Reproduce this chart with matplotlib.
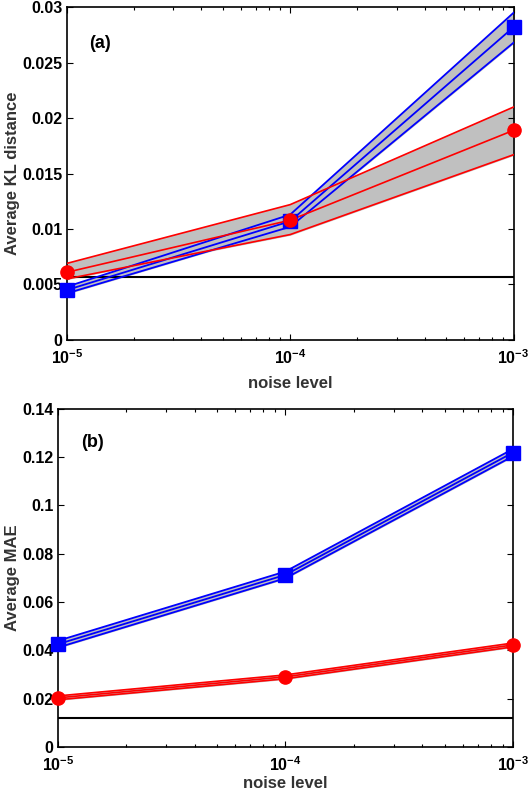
import numpy as np
import matplotlib
matplotlib.use("Agg")
import matplotlib.pyplot as plt
from matplotlib.ticker import FixedLocator, FixedFormatter, LogLocator, NullFormatter

plt.rcParams['font.family'] = ['Liberation Sans', 'DejaVu Sans']
plt.rcParams['font.weight'] = 'bold'
plt.rcParams['mathtext.fontset'] = 'custom'
plt.rcParams['mathtext.bf'] = 'Liberation Sans:bold'
plt.rcParams['mathtext.rm'] = 'Liberation Sans:bold'

noise = [1e-5, 1e-4, 1e-3]
x_ticklabels = [r'$\mathbf{10^{-5}}$', r'$\mathbf{10^{-4}}$', r'$\mathbf{10^{-3}}$']

# panel (a): average KL distance
kl_blue = [0.0045, 0.0107, 0.0282]
kl_blue_hi = [0.0048, 0.0113, 0.0295]
kl_blue_lo = [0.0042, 0.0102, 0.0268]
kl_red = [0.0061, 0.0108, 0.0189]
kl_red_hi = [0.0069, 0.0122, 0.0210]
kl_red_lo = [0.0055, 0.0095, 0.0167]
kl_base = 0.0057
kl_yticks = [0, 0.005, 0.01, 0.015, 0.02, 0.025, 0.03]
kl_ylabels = ['0', '0.005', '0.01', '0.015', '0.02', '0.025', '0.03']

# panel (b): average MAE
mae_blue = [0.0425, 0.0712, 0.1218]
mae_blue_hi = [0.0439, 0.0726, 0.1233]
mae_blue_lo = [0.0411, 0.0698, 0.1203]
mae_red = [0.0203, 0.0290, 0.0422]
mae_red_hi = [0.0211, 0.0298, 0.0430]
mae_red_lo = [0.0195, 0.0282, 0.0414]
mae_base = 0.012
mae_yticks = [0, 0.02, 0.04, 0.06, 0.08, 0.1, 0.12, 0.14]
mae_ylabels = ['0', '0.02', '0.04', '0.06', '0.08', '0.1', '0.12', '0.14']

fig = plt.figure(figsize=(5.3, 7.98), dpi=100)
ax1 = fig.add_axes([0.126, 0.574, 0.843, 0.417])
ax2 = fig.add_axes([0.109, 0.064, 0.859, 0.424])


def draw(ax, b, bhi, blo, r, rhi, rlo, base, yticks, ylabels, ylabel, tag, tagpos):
    ax.set_xscale('log')
    ax.fill_between(noise, blo, bhi, color='#c0c0c0', zorder=1)
    ax.fill_between(noise, rlo, rhi, color='#c0c0c0', zorder=1)
    ax.axhline(base, color='black', lw=1.5, zorder=2)
    for y in (bhi, blo, b):
        ax.plot(noise, y, color='#0000ff', lw=1.3, zorder=3)
    for y in (rhi, rlo, r):
        ax.plot(noise, y, color='#ff0000', lw=1.2, zorder=4)
    ax.plot(noise, b, 's', color='#0000ff', ms=10.5, zorder=5, clip_on=False)
    ax.plot(noise, r, 'o', color='#ff0000', ms=9.5, zorder=6, clip_on=False)

    ax.set_xlim(1e-5, 1e-3)
    ax.set_ylim(yticks[0], yticks[-1])
    ax.xaxis.set_major_locator(FixedLocator(noise))
    ax.xaxis.set_major_formatter(FixedFormatter(x_ticklabels))
    ax.xaxis.set_minor_locator(LogLocator(base=10, subs=np.arange(2, 10)))
    ax.xaxis.set_minor_formatter(NullFormatter())
    ax.yaxis.set_major_locator(FixedLocator(yticks))
    ax.yaxis.set_major_formatter(FixedFormatter(ylabels))
    ax.tick_params(which='both', direction='in', top=True, right=True,
                   labelsize=11.5, width=0.8)
    ax.tick_params(which='major', length=4)
    ax.tick_params(which='minor', length=2.5)
    ax.tick_params(axis='x', pad=6)
    ax.tick_params(axis='y', pad=3)
    for sp in ax.spines.values():
        sp.set_linewidth(1.2)
    ax.set_xlabel('noise level', fontsize=12, fontweight='bold', color='#333333')
    ax.set_ylabel(ylabel, fontsize=12, fontweight='bold', color='#333333')
    ax.text(tagpos[0], tagpos[1], tag, transform=ax.transAxes, fontsize=13,
            fontweight='bold', ha='center', va='center')


draw(ax1, kl_blue, kl_blue_hi, kl_blue_lo, kl_red, kl_red_hi, kl_red_lo, kl_base,
     kl_yticks, kl_ylabels, 'Average KL distance', '(a)', (0.074, 0.89))
draw(ax2, mae_blue, mae_blue_hi, mae_blue_lo, mae_red, mae_red_hi, mae_red_lo, mae_base,
     mae_yticks, mae_ylabels, 'Average MAE', '(b)', (0.077, 0.90))

ax1.yaxis.set_label_coords(-0.105, 0.5)
ax2.yaxis.set_label_coords(-0.084, 0.5)
ax1.xaxis.set_label_coords(0.5, -0.108)
ax2.xaxis.set_label_coords(0.5, -0.085)

fig.savefig('out.png', dpi=100)
